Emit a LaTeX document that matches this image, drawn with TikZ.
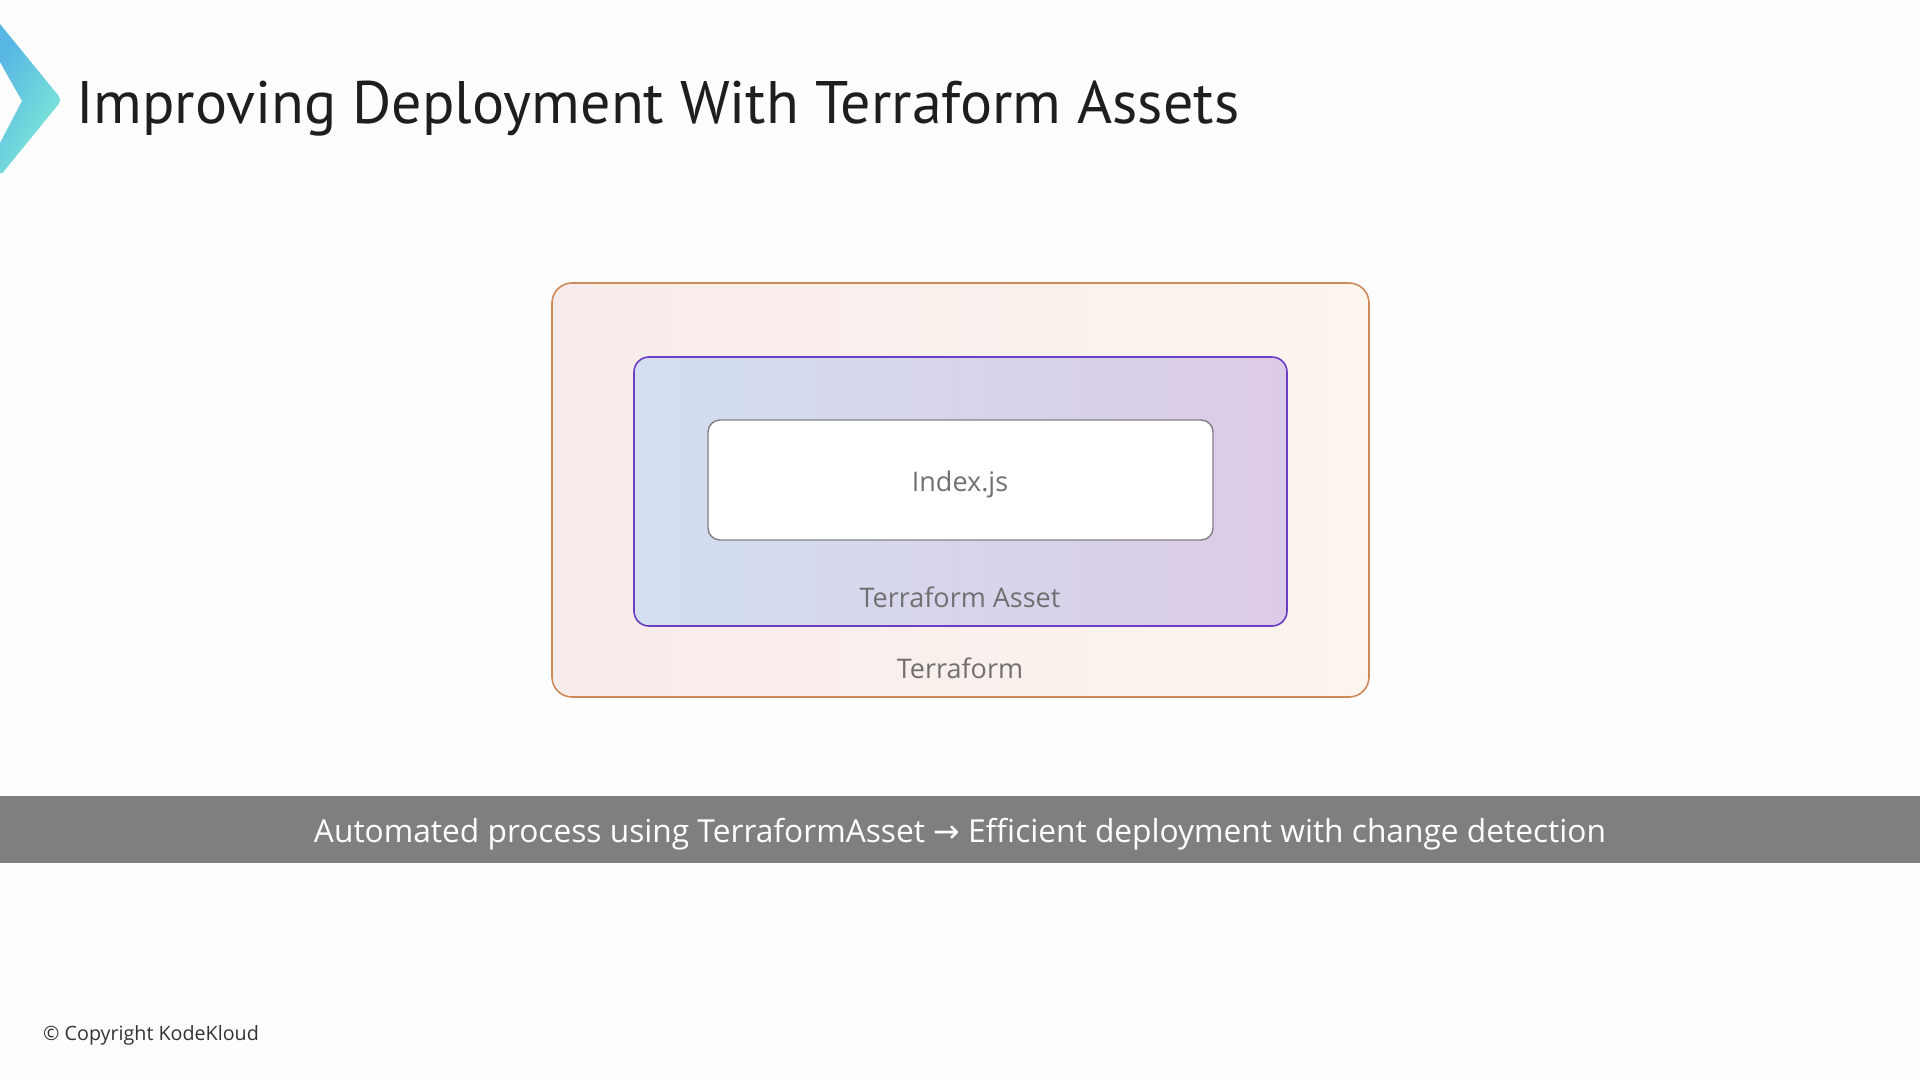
\documentclass[tikz,border=0pt]{standalone}
\usepackage{fontspec}
\setmainfont{Open Sans}
\newfontfamily\titlefont{PT Sans}
\newfontfamily\symfont{DejaVu Sans}
\definecolor{bgc}{HTML}{FDFDFD}
\definecolor{logoA}{HTML}{58B6E4}
\definecolor{logoB}{HTML}{82ECD6}
\definecolor{outerL}{HTML}{F8EBEB}
\definecolor{outerR}{HTML}{FBF5EE}
\definecolor{outerD}{HTML}{CC8A58}
\definecolor{midL}{HTML}{D3DFF0}
\definecolor{midR}{HTML}{DCCBE8}
\definecolor{midD}{HTML}{6A3FC4}
\definecolor{innD}{HTML}{808080}
\definecolor{lbl}{HTML}{707070}
\definecolor{barc}{HTML}{7F7F7F}
\definecolor{titlec}{HTML}{1E1E1E}
\definecolor{copyc}{HTML}{333333}
\tikzset{
  boxbase/.style={rectangle, inner sep=0pt, line width=1.6pt},
  outerbox/.style={boxbase, draw=outerD, left color=outerL, right color=outerR, rounded corners=20pt, minimum width=817pt, minimum height=414pt},
  midbox/.style={boxbase, draw=midD, left color=midL, right color=midR, rounded corners=15pt, minimum width=653pt, minimum height=269pt},
  innbox/.style={boxbase, draw=innD, fill=white, line width=1.4pt, rounded corners=12pt, minimum width=505pt, minimum height=120pt},
  lbltext/.style={text=lbl, font=\fontsize{27}{32}\selectfont, inner sep=0pt, anchor=base},
}
\begin{document}
\begin{tikzpicture}[x=1pt,y=-1pt]
\fill[bgc] (0,0) rectangle (1920,1080);
\useasboundingbox (0,0) rectangle (1920,1080);
% logo
\shade[left color=logoA, right color=logoB, shading angle=60, rounded corners=5pt]
  (0,24) -- (62,100) -- (0,176) [sharp corners] -- (0,143) -- (22,101) -- (0,62) -- cycle;
% title
\node[anchor=base west, inner sep=0pt, text=titlec, font=\titlefont\fontsize{60}{72}\selectfont] (title) at (76,123) {Improving Deployment With Terraform Assets};
% boxes
\node[outerbox] (outer) at (960.5,490) {};
\node[midbox] (mid) at (960.5,491.5) {};
\node[innbox] (inn) at (960.5,480) {};
\node[lbltext] (idx) at (960,491) {Index.js};
\node[lbltext] (asset) at (960,607) {Terraform Asset};
\node[lbltext] (tf) at (960,678) {Terraform};
% bar
\fill[barc] (0,796) rectangle (1920,863);
\node[anchor=base, inner sep=0pt, text=white, font=\fontsize{31.7}{36}\selectfont] (cap) at (960,842) {Automated process using TerraformAsset {\symfont →} Efficient deployment with change detection};
% copyright
\node[anchor=base west, inner sep=0pt, text=copyc, font=\fontsize{19.7}{24}\selectfont] (copy) at (43,1040) {© Copyright KodeKloud};
\end{tikzpicture}
\end{document}
